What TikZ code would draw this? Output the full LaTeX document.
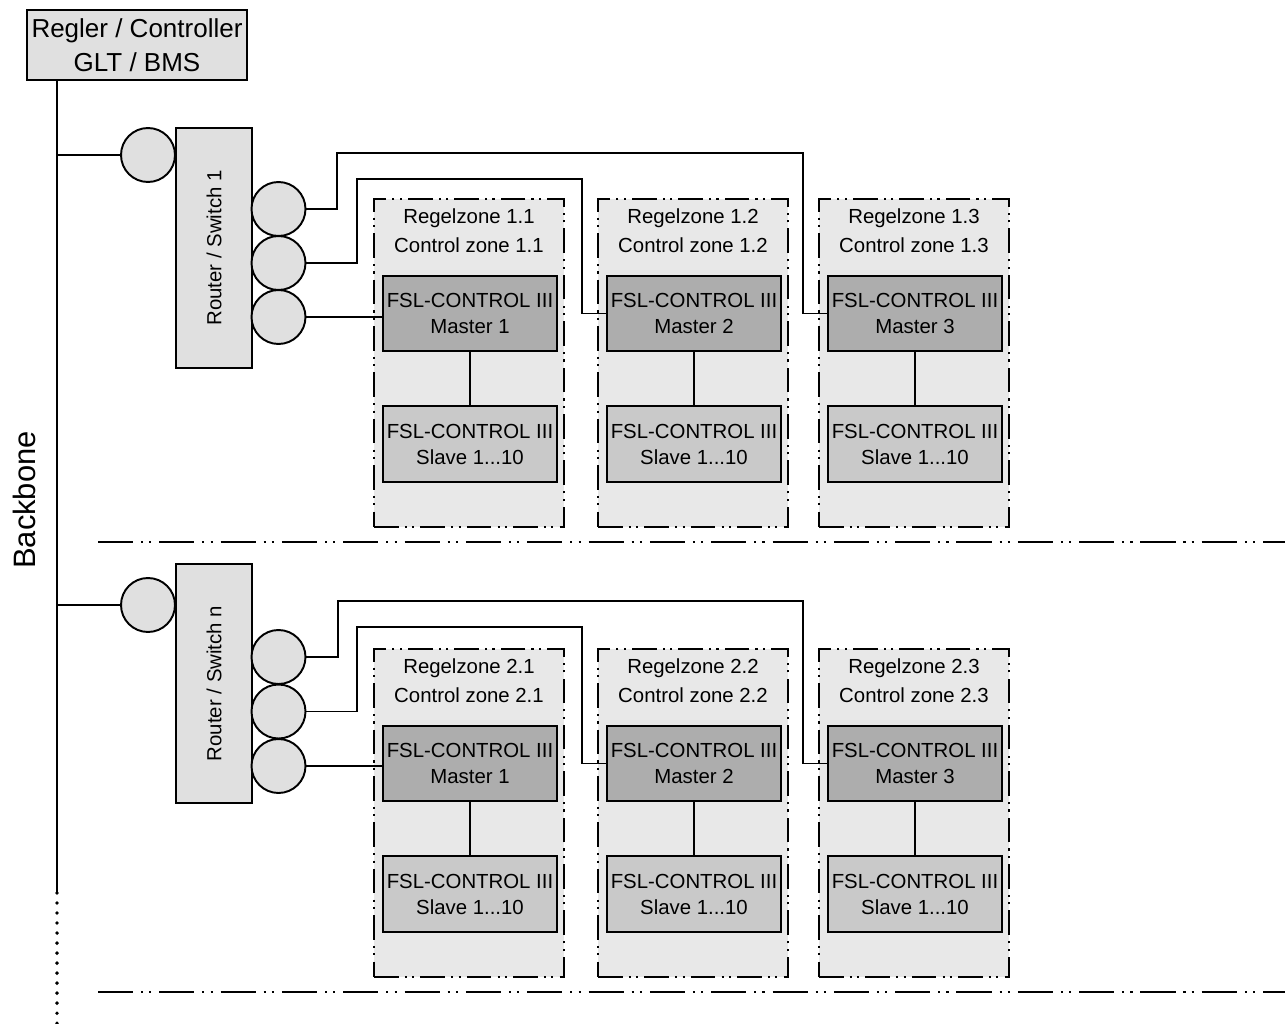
\documentclass[tikz,border=0pt]{standalone}
\usepackage{fontspec}
\setmainfont{Liberation Sans}
\usepackage{graphicx}
\usepackage{xcolor}
\usepackage{tikz}

\begin{document}
\begin{tikzpicture}[
		x=0.02cm, y=-0.02cm, line width=1.1pt,
		box/.style={rectangle, draw=black, inner sep=0pt, align=center},
		port/.style={circle, draw=black, fill=black!12, minimum size=1.08cm, inner sep=0pt},
		zone/.style={
			rectangle, draw=black, fill=black!9, minimum width=3.8cm, minimum height=6.56cm,
			dash pattern=on 14pt off 3.5pt on 1.2pt off 3pt on 1.2pt off 3.5pt
		},
		zonetext/.style={align=center, inner sep=0pt, font=\fontsize{11.6}{16.5}\selectfont},
		master/.style={box, fill=black!32, minimum width=3.48cm, minimum height=1.5cm,
			font=\fontsize{11.6}{14.8}\selectfont},
		slave/.style={box, fill=black!21, minimum width=3.48cm, minimum height=1.52cm,
			font=\fontsize{11.6}{14.8}\selectfont},
		router/.style={box, fill=black!12, minimum width=1.52cm,
			font=\fontsize{11.6}{14}\selectfont},
		sep/.style={dash pattern=on 20pt off 4.5pt on 1.2pt off 3.5pt on 1.2pt off 4.5pt}
	]
		\useasboundingbox (0,0) rectangle (1285,1024);

		% controller and backbone
		\node[
			box, fill=black!12, minimum width=4.4cm, minimum height=1.4cm,
			font=\fontsize{14.8}{19.3}\selectfont
		] (ctrl) at (137,45) {Regler / Controller\\GLT / BMS};
		\node[rotate=90, font=\fontsize{17.6}{20}\selectfont] (bblabel) at (24,500) {Backbone};
		\coordinate (bbend) at (57,893);
		\draw (ctrl.south -| bbend) -- (bbend);
		\draw[line cap=round, line width=2.2pt, dash pattern=on 0pt off 5.7pt] (bbend) -- ++(0,131);

		% control zones
		\foreach \r/\y in {1/0, 2/450} {
				\foreach \c/\x in {1/469, 2/693, 3/914} {
						\node[zone] (z\r\c) at (\x,363+\y) {};
						\node[zonetext] (t\r\c) at (\x,230.5+\y) {Regelzone \r.\c\\Control zone \r.\c};
						\node[master] (m\r\c) at (\x+1,313.5+\y) {FSL-CONTROL III\\Master \c};
						\node[slave] (s\r\c) at (\x+1,444+\y) {FSL-CONTROL III\\Slave 1...10};
						\draw (m\r\c) -- (s\r\c);
					}
			}

		% router / switch 1
		\node[router, minimum height=4.8cm] (rt1) at (214,248) {\rotatebox{90}{Router / Switch 1}};
		\node[port] (in1) at (148,155) {};
		\node[port] (p11) at (278.5,209) {};
		\node[port] (p12) at (278.5,263) {};
		\node[port] (p13) at (278.5,317) {};
		\draw (in1) -- (in1 -| bbend);

		\coordinate (k11) at (337,153);
		\coordinate (k12) at (357,179);
		\coordinate (d12) at (582,313.5);
		\coordinate (d13) at (803,313.5);
		\draw (p13) -- (p13 -| m11.west);
		\draw (p12) -| (k12) -| (d12) -- (m12);
		\draw (p11) -| (k11) -| (d13) -- (m13);

		% router / switch n
		\node[router, minimum height=4.78cm] (rt2) at (214,683.5) {\rotatebox{90}{Router / Switch n}};
		\node[port] (in2) at (148,605) {};
		\node[port] (p21) at (278.5,657) {};
		\node[port] (p22) at (278.5,711.5) {};
		\node[port] (p23) at (278.5,766) {};
		\draw (in2) -- (in2 -| bbend);

		\coordinate (k21) at (338,601);
		\coordinate (k22) at (357,627);
		\coordinate (d22) at (582,763.5);
		\coordinate (d23) at (803,763.5);
		\draw (p23) -- (p23 -| m21.west);
		\draw (p22) -| (k22) -| (d22) -- (m22);
		\draw (p21) -| (k21) -| (d23) -- (m23);

		% separators
		\coordinate (sep1a) at (98,542);
		\coordinate (sep1b) at (1285,542);
		\coordinate (sep2a) at (98,992);
		\coordinate (sep2b) at (1285,992);
		\draw[sep] (sep1a) -- (sep1b);
		\draw[sep] (sep2a) -- (sep2b);
	\end{tikzpicture}
\end{document}
